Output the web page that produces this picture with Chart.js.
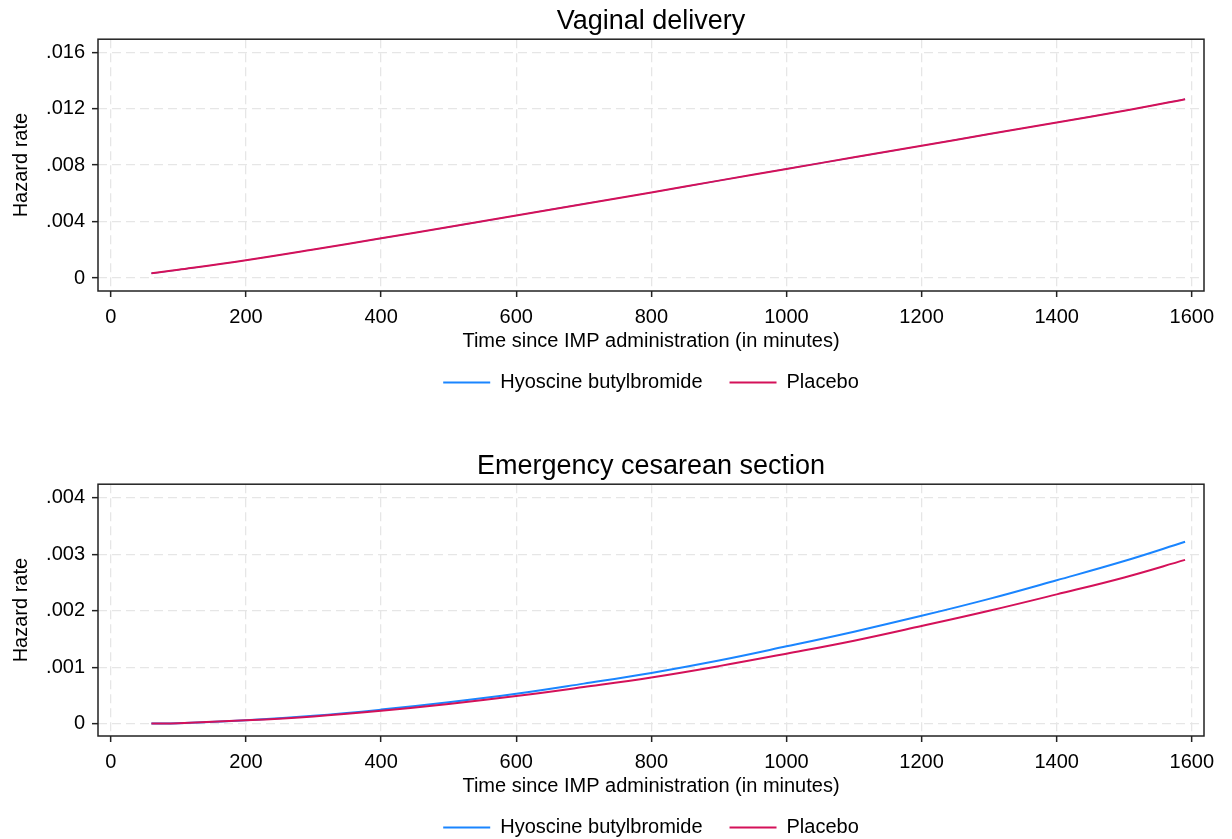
<!DOCTYPE html>
<html>
<head>
<meta charset="utf-8">
<script src="https://cdn.jsdelivr.net/npm/chart.js@4"></script>
<style>
  html, body { margin: 0; padding: 0; background: #fff; overflow: hidden; }
  .wrap { position: absolute; left: 0; width: 1232px; height: 445px; }
  canvas { display: block; }
</style>
</head>
<body>
<div class="wrap" style="top:0px"><canvas id="c1" width="1232" height="445"></canvas></div>
<div class="wrap" style="top:445px"><canvas id="c2" width="1232" height="445"></canvas></div>
<script>
// ---- Data ----
const timeMinutes = [60, 100, 200, 300, 400, 500, 600, 700, 800, 900, 1000, 1100, 1200, 1300, 1400, 1500, 1590];

const vaginalHyoscine = [0.00033, 0.00058, 0.00126, 0.00202, 0.00281, 0.00361, 0.00443, 0.00525, 0.00606, 0.0069, 0.00773, 0.00855, 0.00937, 0.0102, 0.01102, 0.01185, 0.01267];
const vaginalPlacebo  = [0.00033, 0.00058, 0.00126, 0.00202, 0.00281, 0.00361, 0.00443, 0.00525, 0.00606, 0.0069, 0.00773, 0.00855, 0.00937, 0.0102, 0.01102, 0.01185, 0.01267];

const cesareanHyoscine = [0.000004, 0.00001, 0.00006, 0.00014, 0.00025, 0.00038, 0.00053, 0.00071, 0.0009, 0.00112, 0.00137, 0.00163, 0.00191, 0.00221, 0.00254, 0.00288, 0.00322];
const cesareanPlacebo  = [0.000004, 0.00001, 0.00006, 0.00013, 0.00023, 0.00035, 0.00049, 0.00065, 0.00082, 0.00102, 0.00124, 0.00147, 0.00173, 0.002, 0.00229, 0.00259, 0.0029];

const xTicks = [0, 200, 400, 600, 800, 1000, 1200, 1400, 1600];
const vaginalYTicks = [0, 0.004, 0.008, 0.012, 0.016];
const cesareanYTicks = [0, 0.001, 0.002, 0.003, 0.004];

const seriesNames = ['Hyoscine butylbromide', 'Placebo'];
const panelTitles = ['Vaginal delivery', 'Emergency cesarean section'];
const xTitle = 'Time since IMP administration (in minutes)';
const yTitle = 'Hazard rate';

// ---- Styling ----
Chart.defaults.font.family = '"Liberation Sans", Arial, Helvetica, sans-serif';
Chart.defaults.color = '#000';
const BLUE = '#1a85ff';
const RED = '#d41159';

const plotBox = {
  id: 'plotBox',
  afterDraw(chart) {
    const {ctx, chartArea: a} = chart;
    ctx.save();
    ctx.strokeStyle = '#222';
    ctx.lineWidth = 1.5;
    ctx.strokeRect(a.left, a.top, a.right - a.left, a.bottom - a.top);
    ctx.restore();
  }
};

function fmt(v) {
  if (Math.abs(v) < 1e-12) return '0';
  return v.toFixed(3).replace(/^0/, '');
}

function makeChart(id, title, hyo, pla, yTicks, yMin, yMax, hyoWidth) {
  const pts = arr => timeMinutes.map((t, i) => ({x: t, y: arr[i]}));
  return new Chart(document.getElementById(id), {
    type: 'line',
    data: {
      datasets: [
        { label: seriesNames[0], data: pts(hyo), borderColor: BLUE, backgroundColor: BLUE,
          borderWidth: hyoWidth, pointRadius: 0, tension: 0.4, order: 1 },
        { label: seriesNames[1], data: pts(pla), borderColor: RED, backgroundColor: RED,
          borderWidth: 2, pointRadius: 0, tension: 0.4, order: 0 }
      ]
    },
    options: {
      responsive: false,
      animation: false,
      events: [],
      layout: { padding: { left: 0, right: 28, top: 0, bottom: 42.5 } },
      scales: {
        x: {
          type: 'linear', min: -19, max: 1618,
          afterBuildTicks: s => { s.ticks = xTicks.map(v => ({value: v})); },
          afterFit: s => { s.height = 54.5; },
          ticks: { font: {size: 20}, color: '#000', padding: 8, maxRotation: 0, autoSkip: false,
                   callback: v => String(v) },
          grid: { color: '#e6e6e6', lineWidth: 1.3, tickLength: 6, tickColor: '#222', tickWidth: 1.5 },
          border: { display: false, dash: [9, 5] },
          title: { display: true, text: xTitle, font: {size: 20}, color: '#000', padding: {top: 0, bottom: -8} }
        },
        y: {
          type: 'linear', min: yMin, max: yMax,
          afterBuildTicks: s => { s.ticks = yTicks.map(v => ({value: v})); },
          afterFit: s => { s.width = 98; },
          ticks: { font: {size: 20}, color: '#000', padding: 7, callback: v => fmt(v) },
          grid: { color: '#e6e6e6', lineWidth: 1.3, tickLength: 6, tickColor: '#222', tickWidth: 1.5 },
          border: { display: false, dash: [9, 5] },
          title: { display: true, text: yTitle, font: {size: 20}, color: '#000', padding: {top: 9.5, bottom: 0} }
        }
      },
      plugins: {
        title: { display: true, text: title, fullSize: false, font: {size: 27, weight: 'normal'}, color: '#000',
                 padding: {top: 5, bottom: 1.8} },
        legend: {
          position: 'bottom', fullSize: false,
          labels: {
            usePointStyle: true, pointStyle: 'line', pointStyleWidth: 47, font: {size: 20}, color: '#000',
            padding: 27, sort: (a, b) => a.datasetIndex - b.datasetIndex,
            generateLabels: chart => {
              const items = Chart.defaults.plugins.legend.labels.generateLabels(chart);
              items.forEach(it => { it.lineWidth = 2; });
              return items;
            }
          }
        },
        tooltip: { enabled: false }
      }
    },
    plugins: [plotBox]
  });
}

makeChart('c1', panelTitles[0], vaginalHyoscine, vaginalPlacebo, vaginalYTicks, -0.00092, 0.01692, 1.2);
makeChart('c2', panelTitles[1], cesareanHyoscine, cesareanPlacebo, cesareanYTicks, -0.000217, 0.00424, 2);
</script>
</body>
</html>
